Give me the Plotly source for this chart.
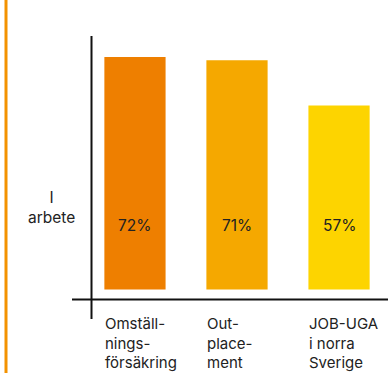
import plotly.graph_objects as go

# ---- data ----
categories = ["Omställ-<br>nings-<br>försäkring", "Out-<br>place-<br>ment", "JOB-UGA<br>i norra<br>Sverige"]
values = [72, 71, 57]
value_labels = ["72%", "71%", "57%"]
bar_colors = ["#EE7F00", "#F5A800", "#FDD400"]
y_title = "I<br>arbete"

W, H = 388, 373
ML, MR, MT, MB = 91, 0, 36, 73
PW, PH = W - ML - MR, H - MT - MB
FONT = "Inter, Noto Sans, sans-serif"


def px_x(p):
    return (p - ML) / PW


def px_y(p):
    return (H - MB - p) / PH


fig = go.Figure()
fig.add_trace(go.Bar(
    x=list(range(len(values))),
    y=values,
    width=0.6,
    marker=dict(color=bar_colors, line=dict(width=0)),
    hoverinfo="skip",
))

annotations = []
for i, (lab, cat) in enumerate(zip(value_labels, categories)):
    annotations.append(dict(
        x=i, y=0, xref="x", yref="y", text=lab, showarrow=False,
        yanchor="middle", yshift=64, font=dict(family=FONT, size=15.5, color="#222222"),
    ))
    annotations.append(dict(
        x=i - 0.3, y=0, xref="x", yref="paper", text=cat, showarrow=False,
        xanchor="left", yanchor="top", align="left", yshift=-12, xshift=-1,
        font=dict(family=FONT, size=15, color="#222222"),
    ))
annotations.append(dict(
    x=px_x(51), y=px_y(207), xref="paper", yref="paper", text=y_title,
    showarrow=False, xanchor="center", yanchor="middle", align="center",
    font=dict(family=FONT, size=15.5, color="#222222"),
))

shapes = [
    dict(type="line", xref="paper", yref="paper", x0=px_x(6), x1=px_x(6),
         y0=px_y(-5), y1=px_y(380), line=dict(color="#F39200", width=3)),
    dict(type="line", xref="paper", yref="paper", x0=px_x(91.5), x1=px_x(91.5),
         y0=px_y(319), y1=px_y(36), line=dict(color="#111111", width=2)),
    dict(type="line", xref="paper", yref="paper", x0=px_x(72), x1=px_x(392),
         y0=px_y(299.5), y1=px_y(299.5), line=dict(color="#111111", width=2)),
]

fig.update_layout(
    width=W, height=H,
    margin=dict(l=ML, r=MR, t=MT, b=MB, pad=0),
    paper_bgcolor="white", plot_bgcolor="white",
    showlegend=False,
    bargap=0.4,
    xaxis=dict(range=[-0.431, 2.48], showticklabels=False, showgrid=False,
               zeroline=False, showline=False, fixedrange=True),
    yaxis=dict(range=[-3.25, 78.5], showticklabels=False, showgrid=False,
               zeroline=False, showline=False, fixedrange=True),
    annotations=annotations,
    shapes=shapes,
)

fig.write_html("out.html", config={"displayModeBar": False})
